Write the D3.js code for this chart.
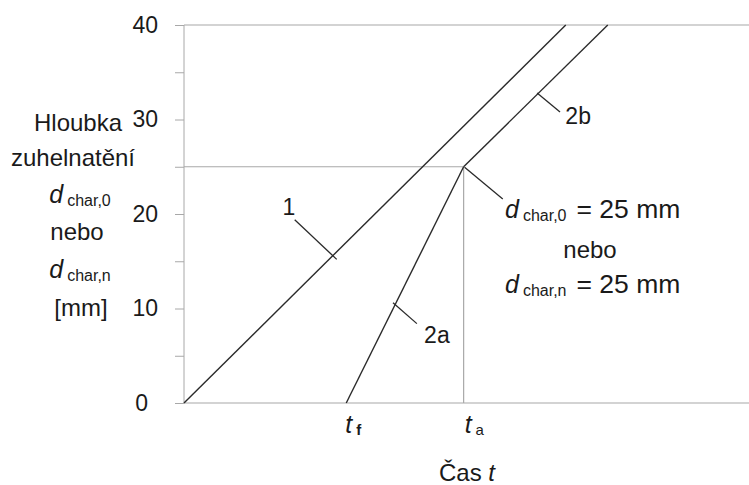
<!DOCTYPE html>
<html>
<head>
<meta charset="utf-8">
<script src="https://cdn.jsdelivr.net/npm/d3@7/dist/d3.min.js"></script>
<style>
  html, body { margin: 0; padding: 0; background: #fff; }
  svg { display: block; }
  text { font-family: "Liberation Sans", Arial, sans-serif; fill: #1a1a1a; }
</style>
</head>
<body>
<svg id="chart" width="749" height="485"></svg>
<script>
// ---- data ----
const yTickValues = [0, 5, 10, 15, 20, 25, 30, 35, 40];
const yTickLabels = [0, 10, 20, 30, 40];
const line1 = [[0, 0], [40, 40]];
const line2a = [[17, 0], [29.3, 25]];
const line2b = [[29.3, 25], [44.4, 40]];
const dChar = 25;
const tF = 17;
const tA = 29.3;
const xMax = 59.2;
const yMax = 40;
// leader lines [from, to] in data units, with label positions
const leaders = [
  { from: [11.6, 19.4], to: [16.0, 15.2], label: "1",  at: [11.0, 19.9] },
  { from: [21.9, 10.6], to: [24.4, 8.4],  label: "2a", at: [26.5, 6.3] },
  { from: [37.0, 32.8], to: [39.4, 30.8], label: "2b", at: [41.3, 29.5] },
  { from: [29.4, 24.95], to: [33.4, 21.6], label: null }
];

// ---- scales ----
const svg = d3.select("#chart");
const x = d3.scaleLinear().domain([0, xMax]).range([184, 749]);
const y = d3.scaleLinear().domain([0, yMax]).range([403, 25]);
const gray = "#a8a8a8";
const dark = "#2a2a2a";

// frame lines
svg.append("line").attr("x1", x(0)).attr("x2", x(0)).attr("y1", y(0)).attr("y2", y(yMax))
  .attr("stroke", gray).attr("stroke-width", 1);
svg.append("line").attr("x1", x(0)).attr("x2", x(xMax)).attr("y1", y(0)).attr("y2", y(0))
  .attr("stroke", gray).attr("stroke-width", 1.2);
svg.append("line").attr("x1", x(0)).attr("x2", x(xMax)).attr("y1", y(yMax)).attr("y2", y(yMax))
  .attr("stroke", gray).attr("stroke-width", 1.2);

// y axis ticks
const yAxis = d3.axisLeft(y).tickValues(yTickValues).tickSize(9).tickPadding(17)
  .tickFormat(d => yTickLabels.includes(d) ? d : "");
const gy = svg.append("g").attr("transform", `translate(${x(0)},0)`).call(yAxis);
gy.select(".domain").remove();
gy.selectAll(".tick line").attr("stroke", gray);
gy.selectAll(".tick text").attr("font-size", 23).attr("fill", "#1a1a1a")
  .attr("font-family", '"Liberation Sans", Arial, sans-serif')
  .attr("dx", d => d === 0 ? -10 : 0);

// reference lines at dChar and tA
svg.append("line").attr("x1", x(0)).attr("x2", x(tA)).attr("y1", y(dChar)).attr("y2", y(dChar))
  .attr("stroke", gray).attr("stroke-width", 1.2);
svg.append("line").attr("x1", x(tA)).attr("x2", x(tA)).attr("y1", y(dChar)).attr("y2", y(0))
  .attr("stroke", gray).attr("stroke-width", 1.2);

// data lines
const lineGen = d3.line().x(d => x(d[0])).y(d => y(d[1]));
[line1, line2a, line2b].forEach(L => {
  svg.append("path").attr("d", lineGen(L)).attr("fill", "none")
    .attr("stroke", dark).attr("stroke-width", 1.4);
});

// leaders
leaders.forEach(l => {
  svg.append("line").attr("x1", x(l.from[0])).attr("y1", y(l.from[1]))
    .attr("x2", x(l.to[0])).attr("y2", y(l.to[1]))
    .attr("stroke", dark).attr("stroke-width", 1.3);
  if (l.label) {
    svg.append("text").attr("x", x(l.at[0])).attr("y", y(l.at[1]))
      .attr("text-anchor", "middle").attr("font-size", 23).text(l.label);
  }
});

// y axis title
const yTitle = svg.append("g");
const cx = 78;
yTitle.append("text").attr("x", cx).attr("y", 131).attr("text-anchor", "middle")
  .attr("font-size", 24).text("Hloubka");
yTitle.append("text").attr("x", cx - 5).attr("y", 166).attr("text-anchor", "middle")
  .attr("font-size", 24).text("zuhelnatění");
function dSub(g, xx, yy, sub, anchor) {
  const t = g.append("text").attr("x", xx).attr("y", yy).attr("text-anchor", anchor || "start");
  t.append("tspan").attr("font-size", 25).attr("font-style", "italic").text("d");
  t.append("tspan").attr("font-size", 16).attr("dx", 4).attr("dy", 3).text(sub);
  return t;
}
dSub(yTitle, cx + 2, 203, "char,0", "middle");
yTitle.append("text").attr("x", cx - 1).attr("y", 240).attr("text-anchor", "middle")
  .attr("font-size", 24).text("nebo");
dSub(yTitle, cx + 2, 278, "char,n", "middle");
yTitle.append("text").attr("x", cx + 3).attr("y", 316).attr("text-anchor", "middle")
  .attr("font-size", 24).text("[mm]");

// right annotation
const ann = svg.append("g");
const t1 = dSub(ann, 505, 218, "char,0");
t1.append("tspan").attr("font-size", 26.5).attr("dx", 10).attr("dy", -3).text("= 25 mm");
ann.append("text").attr("x", 590).attr("y", 258).attr("text-anchor", "middle")
  .attr("font-size", 24).text("nebo");
const t2 = dSub(ann, 505, 293, "char,n");
t2.append("tspan").attr("font-size", 26.5).attr("dx", 10).attr("dy", -3).text("= 25 mm");

// x labels
function tSub(xx, sub, bold) {
  const t = svg.append("text").attr("x", xx).attr("y", 433);
  t.append("tspan").attr("font-size", 25).attr("font-style", "italic").text("t");
  t.append("tspan").attr("font-size", 15).attr("dx", 4).attr("dy", 2)
    .attr("font-weight", bold ? "bold" : "normal").text(sub);
}
tSub(x(tF) - 1, "f", true);
tSub(x(tA) + 1, "a", false);

const xt = svg.append("text").attr("x", 467).attr("y", 481).attr("text-anchor", "middle")
  .attr("font-size", 24);
xt.append("tspan").text("Čas ");
xt.append("tspan").attr("font-style", "italic").text("t");
</script>
</body>
</html>
